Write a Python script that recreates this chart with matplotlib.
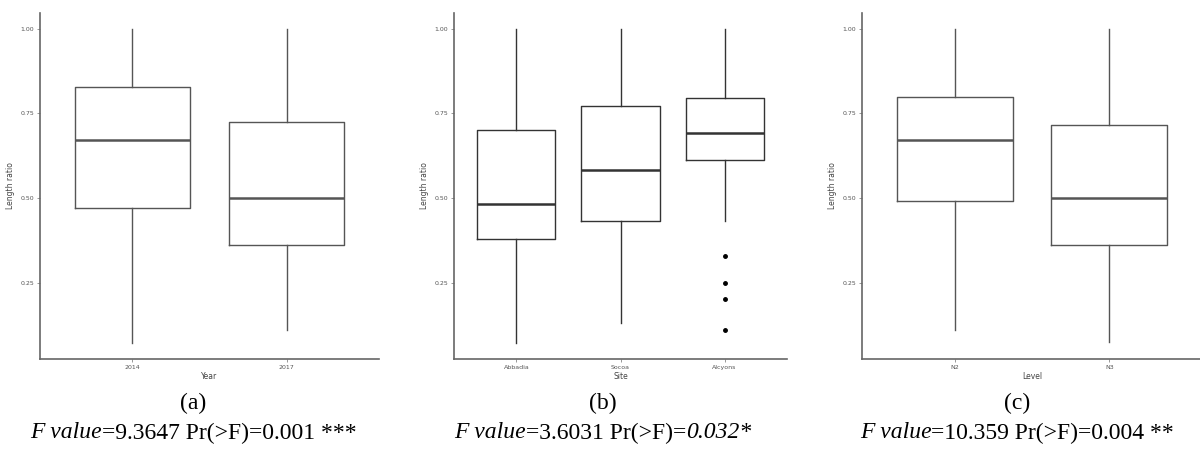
import numpy as np
import matplotlib
matplotlib.use('Agg')
import matplotlib.pyplot as plt

#%% Dados
year_cats = ['2014', '2017']
year_stats = {'whislo': [0.073, 0.112], 'q1': [0.470, 0.362], 'med': [0.671, 0.500],
              'q3': [0.829, 0.726], 'whishi': [1.0, 1.0]}

site_cats = ['Abbadia', 'Socoa', 'Alcyons']
site_stats = {'whislo': [0.073, 0.131, 0.433], 'q1': [0.381, 0.433, 0.612],
              'med': [0.482, 0.582, 0.691], 'q3': [0.701, 0.772, 0.796],
              'whishi': [1.0, 1.0, 1.0]}
site_fliers = [[], [], [0.330, 0.250, 0.202, 0.112]]

level_cats = ['N2', 'N3']
level_stats = {'whislo': [0.112, 0.075], 'q1': [0.492, 0.362], 'med': [0.671, 0.500],
               'q3': [0.799, 0.715], 'whishi': [1.0, 1.0]}

captions = ['(a)', '(b)', '(c)']
xlabels = ['Year', 'Site', 'Level']
yticks = [0.25, 0.50, 0.75, 1.00]

# pedaços da linha de estatística: (texto, itálico?)
stat_lines = [
    [('F value', True), ('=9.3647 Pr(>F)=0.001 ***', False)],
    [('F value', True), ('=3.6031 Pr(>F)=', False), ('0.032*', True)],
    [('F value', True), ('=10.359 Pr(>F)=0.004 **', False)],
]

#%% Funções
def painel(fig, rect, cats, stats, xlabel, cor, fliers=None):
    ax = fig.add_axes(rect)
    n = len(cats)
    bx = []
    for i in range(n):
        d = {k: stats[k][i] for k in stats}
        d['fliers'] = fliers[i] if fliers else []
        bx.append(d)
    ax.bxp(bx, positions=np.arange(1, n + 1), widths=0.75, showcaps=False,
           patch_artist=False, showfliers=True,
           boxprops=dict(color=cor, lw=1.0),
           whiskerprops=dict(color=cor, lw=1.0),
           medianprops=dict(color=cor, lw=1.8),
           flierprops=dict(marker='o', markersize=2.5, markerfacecolor='black',
                           markeredgecolor='black'))
    ax.set_xlim(0.4, n + 0.6)
    ax.set_ylim(0.026, 1.046)
    ax.set_yticks(yticks)
    ax.set_yticklabels(['{:.2f}'.format(v) for v in yticks])
    ax.set_xticks(np.arange(1, n + 1))
    ax.set_xticklabels(cats)
    for s in ['top', 'right']:
        ax.spines[s].set_visible(False)
    for s in ['left', 'bottom']:
        ax.spines[s].set_color('#666666')
        ax.spines[s].set_linewidth(1.2)
    ax.tick_params(axis='both', labelsize=4.5, colors='#888888', length=2, width=0.6,
                   pad=2, labelcolor='#555555')
    ax.set_xlabel(xlabel, fontsize=5.5, color='#444444', labelpad=1.5)
    ax.set_ylabel('Length ratio', fontsize=5.5, color='#444444', labelpad=4)
    return ax

def linha_mista(fig, xc, y, partes, fs):
    # escreve os pedaços lado a lado e centra o conjunto em xc
    r = fig.canvas.get_renderer()
    textos, larg = [], []
    for txt, it in partes:
        t = fig.text(0, y, txt, ha='left', va='center', fontsize=fs,
                     family='Liberation Serif', style='italic' if it else 'normal')
        larg.append(t.get_window_extent(r).width / fig.bbox.width)
        textos.append(t)
    x = xc - sum(larg) / 2
    for t, w in zip(textos, larg):
        t.set_x(x)
        x += w

#%% Gráfico
fig = plt.figure(figsize=(12, 4.49), dpi=100)
H = 449.0
bot = (H - 359) / H
hgt = (359 - 13) / H

painel(fig, [40 / 1200, bot, 339 / 1200, hgt], year_cats, year_stats, xlabels[0], '#555555')
painel(fig, [454 / 1200, bot, 333 / 1200, hgt], site_cats, site_stats, xlabels[1], '#333333',
       fliers=site_fliers)
painel(fig, [862 / 1200, bot, 340 / 1200, hgt], level_cats, level_stats, xlabels[2], '#555555')

centros = [193 / 1200, 603 / 1200, 1017 / 1200]
for c, cap, partes in zip(centros, captions, stat_lines):
    fig.text(c, 1 - 403 / H, cap, ha='center', va='center', fontsize=17,
             family='Liberation Serif')
    linha_mista(fig, c, 1 - 433 / H, partes, 17)

plt.savefig('out.png', dpi=100)
